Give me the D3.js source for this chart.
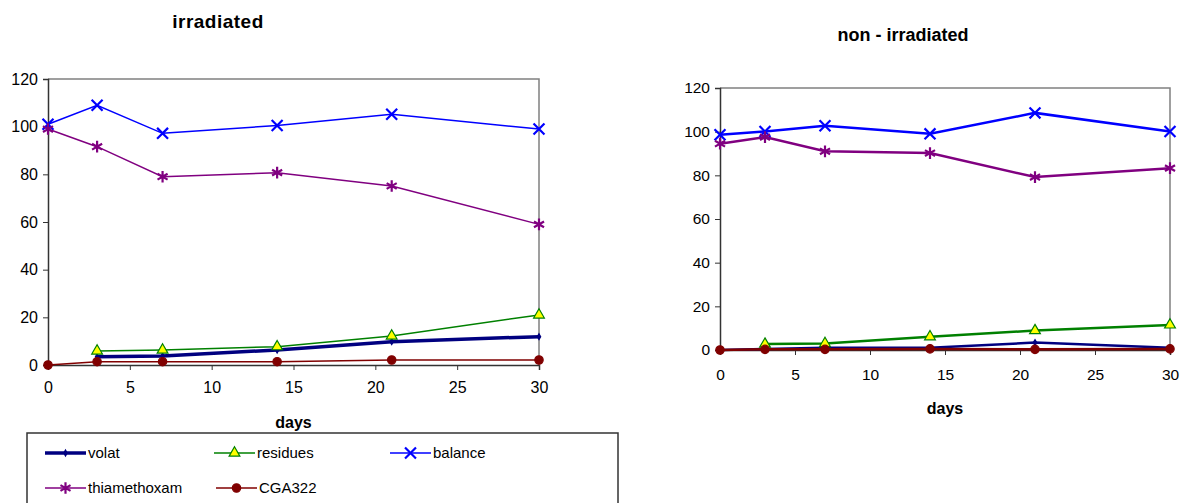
<!DOCTYPE html>
<html>
<head>
<meta charset="utf-8">
<script src="https://cdn.jsdelivr.net/npm/d3@7"></script>
<style>
  body { margin: 0; background: #fff; }
  svg { font-family: "Liberation Sans", Arial, sans-serif; }
  .tick text { fill: #000; }
  .title { font-weight: bold; }
  .label { font-weight: bold; font-size: 16px; }
  .legend text { font-size: 15px; }
</style>
</head>
<body>
<svg width="1192" height="503"></svg>
<script>
    var days = [0, 3, 7, 14, 21, 30]
    var xTicks = [0, 5, 10, 15, 20, 25, 30]
    var yTicks = [0, 20, 40, 60, 80, 100, 120]
    var seriesNames = ['volat', 'residues', 'balance', 'thiamethoxam', 'CGA322']

    // irradiated
    var irrVolat = [null, 3.5, 3.8, 6.3, 9.8, 11.9]
    var irrResidues = [null, 5.9, 6.3, 7.7, 12.2, 21]
    var irrBalance = [101, 109, 97.2, 100.5, 105.2, 99]
    var irrThiamethoxam = [99, 91.6, 79, 80.7, 75.1, 59]
    var irrCGA322 = [0, 1.4, 1.4, 1.4, 2.1, 2.1]

    // non - irradiated
    var nonVolat = [0, 0.5, 1, 1, 3.4, 1]
    var nonResidues = [null, 2.7, 3, 6.1, 8.9, 11.5]
    var nonBalance = [98.6, 100.1, 102.7, 99, 108.6, 100.1]
    var nonThiamethoxam = [94.5, 97.5, 91, 90.2, 79.2, 83.3]
    var nonCGA322 = [0, 0.3, 0.3, 0.5, 0.3, 0.5]

    var styles = {
      volat: { color: '#000080', marker: d3.symbolDiamond, size: 10, fill: '#000080' },
      residues: { color: '#008000', marker: d3.symbolTriangle, size: 50, fill: '#ffff00' },
      balance: { color: '#0000ff', marker: d3.symbolTimes, size: 80, fill: 'none' },
      thiamethoxam: { color: '#800080', marker: d3.symbolAsterisk, size: 95, fill: 'none' },
      CGA322: { color: '#800000', marker: d3.symbolCircle, size: 55, fill: '#800000' }
    }

    var svg = d3.select('svg');

    function drawChart(opts) {
      var xScale = d3.scaleLinear().domain([0, 30]).range([opts.x0, opts.x1])
      var yScale = d3.scaleLinear().domain([0, 120]).range([opts.y1, opts.y0])
      var chart = svg.append('g')

      // plot frame (top and right)
      chart.append('path')
        .attr('d', `M${opts.x0},${opts.y0}H${opts.x1}V${opts.y1}`)
        .attr('fill', 'none')
        .attr('stroke', '#808080')
        .attr('stroke-width', 1.5)

      var yAxis = chart.append('g')
        .attr('transform', `translate(${opts.x0},0)`)
        .call(d3.axisLeft(yScale).tickValues(yTicks).tickSize(5).tickPadding(5))
      var xAxis = chart.append('g')
        .attr('transform', `translate(0,${opts.y1})`)
        .call(d3.axisBottom(xScale).tickValues(xTicks).tickSize(5).tickPadding(opts.xPad))
      ;[yAxis, xAxis].forEach(a => {
        a.select('.domain').attr('stroke', '#333').attr('stroke-width', 1.5)
        a.selectAll('.tick line').attr('stroke', '#333')
        a.selectAll('.tick text').style('font-size', opts.tickFont)
      })

      opts.series.forEach((s) => {
        var st = styles[s.name]
        var pts = days.map((d, i) => ({ d: d, v: s.values[i] })).filter(p => p.v != null)
        var line = d3.line().x(p => xScale(p.d)).y(p => yScale(p.v))
        chart.append('path')
          .datum(pts)
          .attr('d', line)
          .attr('fill', 'none')
          .attr('stroke', st.color)
          .attr('stroke-width', s.width)
        chart.selectAll()
          .data(pts)
          .enter()
          .append('path')
          .attr('transform', p => `translate(${xScale(p.d)},${yScale(p.v)})`)
          .attr('d', d3.symbol(st.marker, st.size))
          .attr('fill', st.fill)
          .attr('stroke', st.color)
          .attr('stroke-width', st.fill === 'none' ? 2.2 : 1.2)
      })

      svg.append('text')
        .attr('class', 'title')
        .attr('x', opts.titleX)
        .attr('y', opts.titleY)
        .attr('text-anchor', 'middle')
        .style('font-size', opts.titleFont)
        .style('letter-spacing', opts.titleSpacing)
        .text(opts.title)

      svg.append('text')
        .attr('class', 'label')
        .attr('x', (opts.x0 + opts.x1) / 2)
        .attr('y', opts.labelY)
        .attr('text-anchor', 'middle')
        .text('days')
    }

    drawChart({
      x0: 48, x1: 539, y0: 79, y1: 365, xPad: 12, tickFont: '16px',
      title: 'irradiated', titleX: 218, titleY: 28, titleFont: '19px', titleSpacing: '0.5px',
      labelY: 428,
      series: [
        { name: 'volat', values: irrVolat, width: 3.5 },
        { name: 'residues', values: irrResidues, width: 1.5 },
        { name: 'balance', values: irrBalance, width: 1.5 },
        { name: 'thiamethoxam', values: irrThiamethoxam, width: 1.5 },
        { name: 'CGA322', values: irrCGA322, width: 1.5 }
      ]
    })

    drawChart({
      x0: 720, x1: 1170, y0: 88, y1: 350, xPad: 14, tickFont: '15.5px',
      title: 'non - irradiated', titleX: 903, titleY: 41, titleFont: '18px', titleSpacing: '0px',
      labelY: 414,
      series: [
        { name: 'volat', values: nonVolat, width: 2.5 },
        { name: 'residues', values: nonResidues, width: 2.5 },
        { name: 'balance', values: nonBalance, width: 2.5 },
        { name: 'thiamethoxam', values: nonThiamethoxam, width: 2.5 },
        { name: 'CGA322', values: nonCGA322, width: 2.5 }
      ]
    })

    // legend
    var legend = svg.append('g').attr('class', 'legend')
    legend.append('rect')
      .attr('x', 27).attr('y', 433)
      .attr('width', 591).attr('height', 80)
      .attr('fill', 'none')
      .attr('stroke', '#333')
      .attr('stroke-width', 1.5)

    var legendPos = [
      { x: 45, y: 453 }, { x: 214, y: 453 }, { x: 390, y: 453 },
      { x: 45, y: 488 }, { x: 216, y: 488 }
    ]
    seriesNames.forEach((name, i) => {
      var st = styles[name]
      var p = legendPos[i]
      var g = legend.append('g').attr('transform', `translate(${p.x},${p.y})`)
      g.append('line')
        .attr('x1', 0).attr('x2', 41)
        .attr('stroke', st.color)
        .attr('stroke-width', name === 'volat' ? 3.5 : 1.5)
      g.append('path')
        .attr('transform', 'translate(20.5,0)')
        .attr('d', d3.symbol(st.marker, st.size))
        .attr('fill', st.fill)
        .attr('stroke', st.color)
        .attr('stroke-width', st.fill === 'none' ? 2.2 : 1.2)
      g.append('text')
        .attr('x', 43)
        .attr('dy', '0.35em')
        .text(name)
    })
</script>
</body>
</html>
